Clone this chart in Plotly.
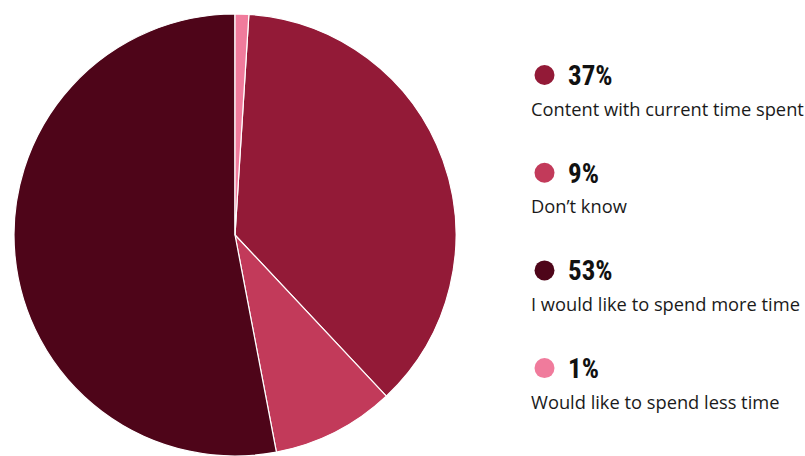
import plotly.graph_objects as go

# Survey responses on time spent
labels = [
    "Content with current time spent",
    "Don\u2019t know",
    "I would like to spend more time",
    "Would like to spend less time",
]
values = [37, 9, 53, 1]
colors = ["#931A37", "#C23A5A", "#4E0519", "#F07B9C"]

W, H = 805, 456

fig = go.Figure()

fig.add_trace(go.Pie(
    labels=labels,
    values=values,
    sort=False,
    direction="clockwise",
    rotation=360 * values[-1] / sum(values),
    marker=dict(colors=colors, line=dict(color="white", width=1.2)),
    textinfo="none",
    hoverinfo="label+percent",
    showlegend=False,
    domain=dict(x=[12 / W, 458 / W], y=[0, 1 - 14 / H]),
))

# Custom legend: dot, bold percentage and description
bold_font = "Liberation Sans Narrow, Roboto Condensed, Roboto, sans-serif"
text_font = "Open Sans, Noto Sans, sans-serif"
top, step = 75, 97.7
shapes, annotations = [], []
for i, (lab, val, col) in enumerate(zip(labels, values, colors)):
    cy = top + step * i
    shapes.append(dict(
        type="circle", xref="x", yref="y",
        x0=534.5, x1=554.5, y0=cy - 10, y1=cy + 10,
        fillcolor=col, line=dict(width=0),
    ))
    annotations.append(dict(
        x=566, y=cy + 1, xref="x", yref="y", xanchor="left", yanchor="middle",
        text=f"<b>{val:g}%</b>", showarrow=False,
        font=dict(family=bold_font, size=27, color="#111111"),
    ))
    annotations.append(dict(
        x=529, y=cy + 33, xref="x", yref="y", xanchor="left", yanchor="middle",
        text=lab, showarrow=False,
        font=dict(family=text_font, size=18.3, color="#1a1a1a"),
    ))

fig.update_layout(
    width=W, height=H,
    margin=dict(l=0, r=0, t=0, b=0),
    paper_bgcolor="white", plot_bgcolor="white",
    xaxis=dict(range=[0, W], visible=False, domain=[0, 1], fixedrange=True),
    yaxis=dict(range=[H, 0], visible=False, domain=[0, 1], fixedrange=True),
    shapes=shapes,
    annotations=annotations,
)

fig.write_html("out.html")
